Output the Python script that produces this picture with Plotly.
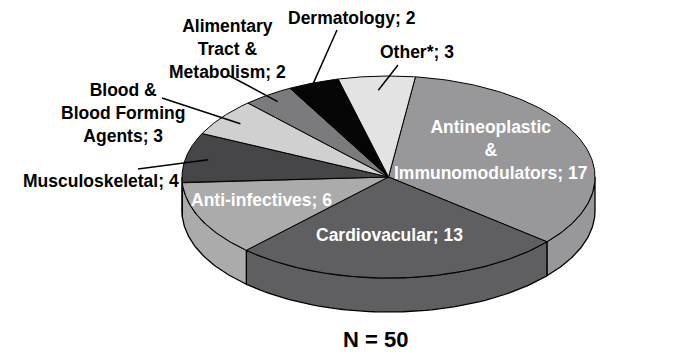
import numpy as np
import plotly.graph_objects as go

# ---- data ----
categories = ["Antineoplastic<br>&<br>Immunomodulators", "Cardiovacular", "Anti-infectives",
              "Musculoskeletal", "Blood &<br>Blood Forming<br>Agents",
              "Alimentary<br>Tract &<br>Metabolism", "Dermatology", "Other*"]
counts = [17, 13, 6, 4, 3, 2, 2, 3]
total_label = "N = 50"

# ---- style ----
colors = ["#98989b", "#5f5f62", "#ababab", "#464648", "#d0d0d0", "#7b7b7d", "#050505", "#e3e3e3"]
text_colors = ["white", "white", "white", "black", "black", "black", "black", "black"]
# label placement (pixel space) and leader lines (outer end; inner end from slice mid-angle)
label_pos = [(491, 150), (389, 235), (261, 200), (101, 181), (123, 113), (227, 49), (352, 18), (417, 52)]
leader_outer = [None, None, None, (138, 169), (162, 98), (228, 75), (337, 30), (398, 65)]
leader_r = [None, None, None, 0.89, 0.89, 0.92, 1.0, 0.86]

W, H = 690, 359
CX, CY, RX, RY, DEPTH = 388.5, 177.0, 206.5, 101.0, 34.0
START = 7.5  # degrees clockwise from 12 o'clock

def pt(theta, r=1.0):
    t = np.radians(theta)
    return CX + r * RX * np.sin(t), CY - r * RY * np.cos(t)

fracs = np.array(counts) / np.sum(counts)
ends = START + np.cumsum(fracs) * 360
starts = ends - fracs * 360

fig = go.Figure()

# side walls (front half: 90..270 deg)
for i in range(len(counts)):
    a0, a1 = max(starts[i], 90), min(ends[i], 270)
    if a1 <= a0:
        continue
    th = np.linspace(a0, a1, 60)
    xs, ys = pt(th)
    px = list(xs) + list(xs[::-1]) + [xs[0]]
    py = list(ys) + list((ys + DEPTH)[::-1]) + [ys[0]]
    fig.add_trace(go.Scatter(x=px, y=py, mode="lines", fill="toself", fillcolor=colors[i],
                             line=dict(color="black", width=1.3), hoverinfo="skip", showlegend=False))

# top faces
for i in range(len(counts)):
    th = np.linspace(starts[i], ends[i], 120)
    xs, ys = pt(th)
    px = [CX] + list(xs) + [CX]
    py = [CY] + list(ys) + [CY]
    fig.add_trace(go.Scatter(x=px, y=py, mode="lines", fill="toself", fillcolor=colors[i],
                             line=dict(color="black", width=1), hoverinfo="skip", showlegend=False,
                             name=categories[i].replace("<br>", " ")))

# leader lines
for i in range(len(counts)):
    if leader_outer[i] is None:
        continue
    mid = (starts[i] + ends[i]) / 2
    ix, iy = pt(mid, leader_r[i])
    ox, oy = leader_outer[i]
    fig.add_trace(go.Scatter(x=[ox, ix], y=[oy, iy], mode="lines",
                             line=dict(color="black", width=1.5), hoverinfo="skip", showlegend=False))

font_fam = "Liberation Sans, Arial, Helvetica, sans-serif"
for i in range(len(counts)):
    fig.add_annotation(x=label_pos[i][0], y=label_pos[i][1], text=f"{categories[i]}; {counts[i]}",
                       showarrow=False, xanchor="center", yanchor="middle", align="center",
                       font=dict(family=font_fam, size=17.5, color=text_colors[i], weight="bold"))

fig.add_annotation(x=375, y=339, text=total_label, showarrow=False, xanchor="center", yanchor="middle",
                   font=dict(family=font_fam, size=22, color="black", weight="bold"))

fig.update_layout(width=W, height=H, margin=dict(l=0, r=0, t=0, b=0),
                  paper_bgcolor="white", plot_bgcolor="white",
                  xaxis=dict(range=[0, W], visible=False, fixedrange=True),
                  yaxis=dict(range=[H, 0], visible=False, fixedrange=True))

fig.write_html("out.html", config={"displayModeBar": False},
               post_script="document.body.style.margin='0';document.body.style.overflow='hidden';")
